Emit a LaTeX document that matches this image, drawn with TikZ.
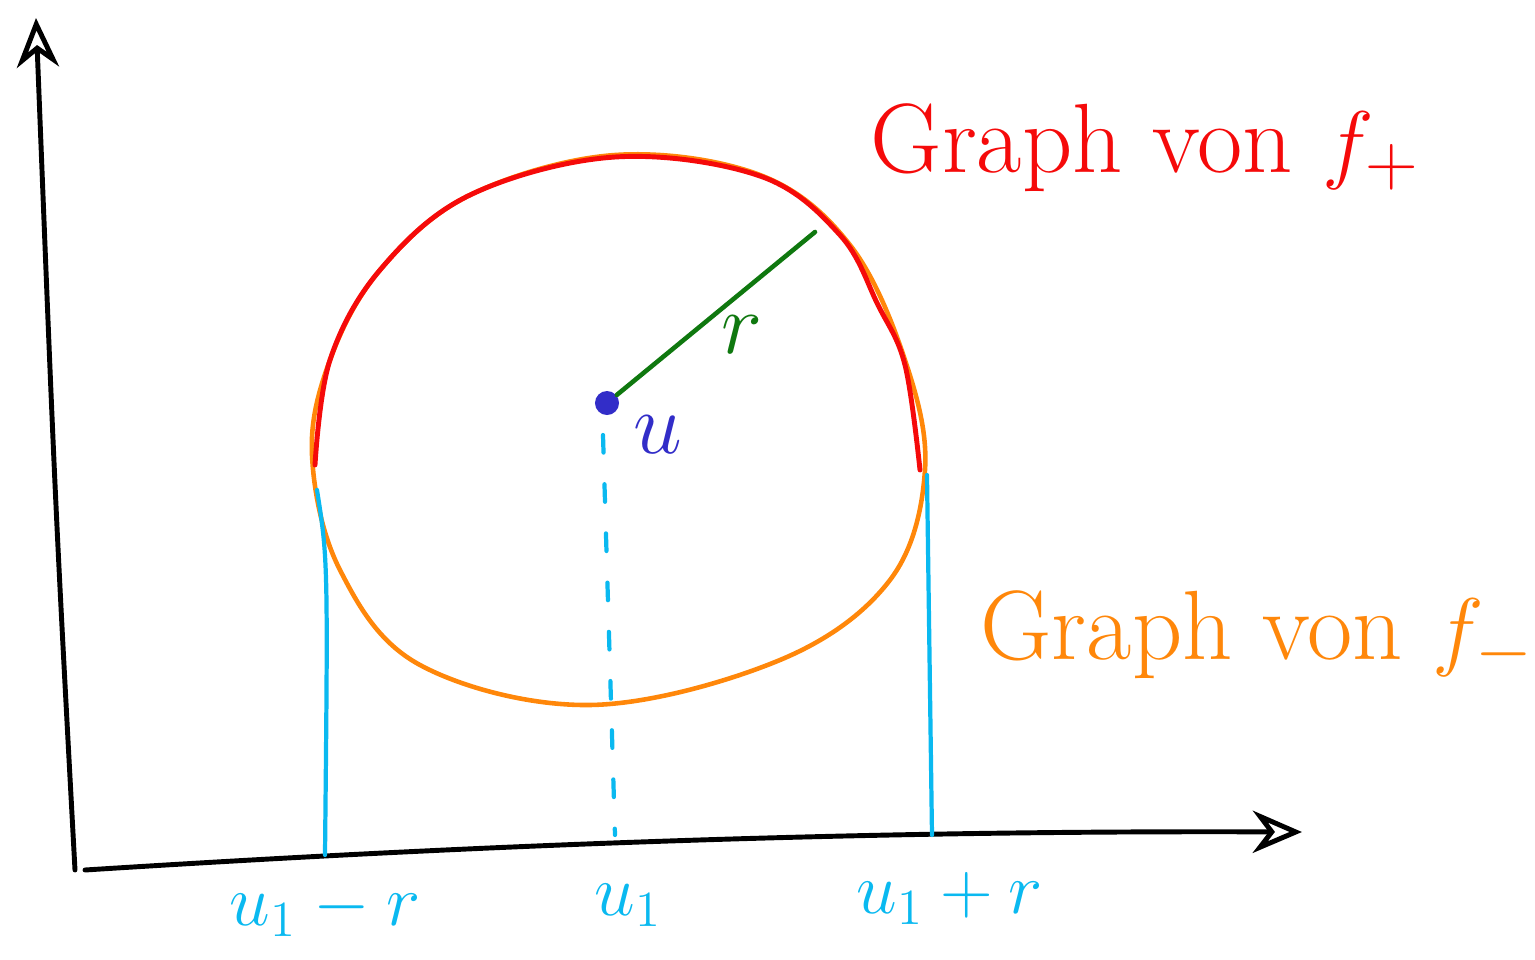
\documentclass[tikz,border=0pt]{standalone}
\usepackage{amsmath,amssymb}
\usepackage{tikz}
\usepackage{xcolor}
\usetikzlibrary{arrows.meta}

\definecolor{penred}{RGB}{245,10,10}
\definecolor{penorange}{RGB}{255,135,10}
\definecolor{pengreen}{RGB}{15,120,15}
\definecolor{penblue}{RGB}{50,45,200}
\definecolor{pencyan}{RGB}{10,185,240}

\begin{document}
\begin{tikzpicture}[x=0.01cm, y=-0.01cm, line cap=round, line join=round,
    every node/.style={font=\fontsize{25}{30}\selectfont},
    axis/.style={line width=1.4pt, -{Stealth[open, length=14pt, width=12pt]}},
    foot/.style={pencyan, line width=1.2pt}]
    \useasboundingbox (0,0) rectangle (1535,960);

    % Axes
    \coordinate (O) at (75,870);
    \coordinate (ytip) at (36,18);
    \coordinate (xstart) at (85,870);
    \coordinate (xtip) at (1302,832);
    \draw[axis] (O) .. controls (55,500) .. (ytip);
    \draw[axis] (xstart) .. controls (400,850) and (800,830) .. (xtip);

    % Graph of f_- (whole circle)
    \draw[penorange, line width=1.3pt] plot[smooth cycle, tension=0.6] coordinates
      {(312,455) (330,360) (380,270) (470,195) (615,155) (760,175) (850,245)
       (905,360) (925,470) (890,580) (780,660) (590,705) (420,665) (340,570)};

    % Graph of f_+ (upper half)
    \draw[penred, line width=1.4pt] plot[smooth, tension=0.6] coordinates
      {(315,465) (330,360) (380,270) (470,195) (615,157) (760,176) (840,235)
       (878,305) (905,365) (920,470)};

    % Centre and radius
    \node[circle, fill=penblue, inner sep=0pt, minimum size=0.24cm] (u) at (607,403) {};
    \coordinate (rend) at (815,232);
    \draw[pengreen, line width=1.3pt] (u) -- (rend);
    \node[pengreen] (rlabel) at (742,335) {$r$};
    \node[penblue] (ulabel) at (658,435) {$u$};

    % Feet on the x-axis
    \coordinate (midtop) at (603,435);
    \coordinate (midfoot) at (615,835);
    \coordinate (lefttop) at (317,490);
    \coordinate (leftfoot) at (325,855);
    \coordinate (righttop) at (927,475);
    \coordinate (rightfoot) at (932,835);
    \draw[foot, dash pattern=on 5pt off 9pt] (midtop) -- (midfoot);
    \draw[foot] (lefttop) .. controls (328,560) .. (leftfoot);
    \draw[foot] (righttop) -- (rightfoot);

    % Labels on the x-axis
    \node[pencyan, font=\fontsize{22}{26}\selectfont] (lminus) at (325,910) {$u_1 - r$};
    \node[pencyan, font=\fontsize{22}{26}\selectfont] (lmid) at (628,905) {$u_1$};
    \node[pencyan, font=\fontsize{22}{26}\selectfont] (lplus) at (950,898) {$u_1 + r$};

    % Graph labels
    \node[penred, font=\fontsize{28}{32}\selectfont] (fplus) at (1145,148) {Graph von $f_+$};
    \node[penorange, font=\fontsize{28}{32}\selectfont] (fminus) at (1257,635) {Graph von $f_-$};
\end{tikzpicture}
\end{document}
